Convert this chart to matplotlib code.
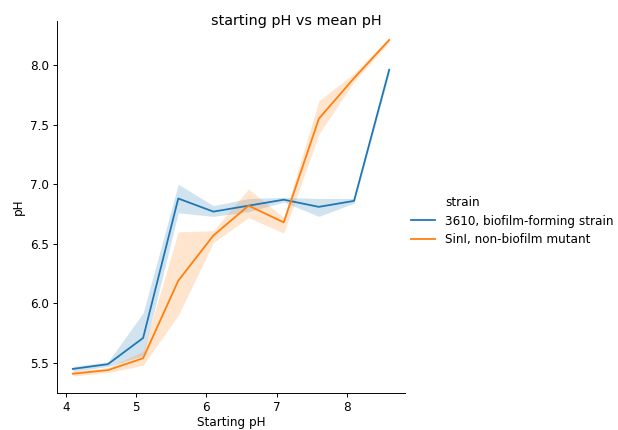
import numpy as np
import matplotlib
matplotlib.use('Agg')
import matplotlib.pyplot as plt
from matplotlib.lines import Line2D

# starting pH of the medium
start_ph = [4.1, 4.6, 5.1, 5.6, 6.1, 6.6, 7.1, 7.6, 8.1, 8.6]

# 3610, biofilm-forming strain: mean pH and 95% CI bounds
wt_mean = [5.45, 5.49, 5.71, 6.88, 6.77, 6.82, 6.87, 6.81, 6.86, 7.96]
wt_low = [5.43, 5.47, 5.56, 6.76, 6.73, 6.77, 6.85, 6.73, 6.84, 7.93]
wt_high = [5.47, 5.51, 5.92, 7.00, 6.82, 6.88, 6.89, 6.88, 6.88, 7.99]

# SinI, non-biofilm mutant
mut_mean = [5.41, 5.44, 5.54, 6.19, 6.57, 6.82, 6.68, 7.55, 7.89, 8.21]
mut_low = [5.39, 5.42, 5.48, 5.90, 6.51, 6.72, 6.59, 7.42, 7.86, 8.19]
mut_high = [5.43, 5.46, 5.60, 6.60, 6.61, 6.96, 6.72, 7.70, 7.93, 8.23]

strain_names = ['3610, biofilm-forming strain', 'SinI, non-biofilm mutant']
colors = ['#1f77b4', '#ff7f0e']

fig = plt.figure(figsize=(618 / 86, 430 / 86), dpi=86)
ax = fig.add_axes([57 / 618, 1 - 393 / 430, (405 - 57) / 618, (393 - 20.7) / 430])

series = [(wt_mean, wt_low, wt_high), (mut_mean, mut_low, mut_high)]
handles = [Line2D([], [], linestyle='none', marker='none')]
labels = ['strain']
for (m, lo, hi), name, c in zip(series, strain_names, colors):
    line, = ax.plot(start_ph, m, color=c, lw=1.5, label=name)
    ax.fill_between(start_ph, lo, hi, color=c, alpha=0.2, linewidth=0)
    handles.append(line)
    labels.append(name)

ax.spines['top'].set_visible(False)
ax.spines['right'].set_visible(False)
ax.set_xlabel('Starting pH', labelpad=1.5)
ax.set_ylabel('pH')

fig.suptitle('starting pH vs mean pH', x=0.48, y=0.968, va='top', fontsize=12)
fig.legend(handles, labels, loc='center left', bbox_to_anchor=(0.658, 0.486),
           frameon=False, borderaxespad=0)

fig.savefig('out.png', dpi=86, facecolor='white')
